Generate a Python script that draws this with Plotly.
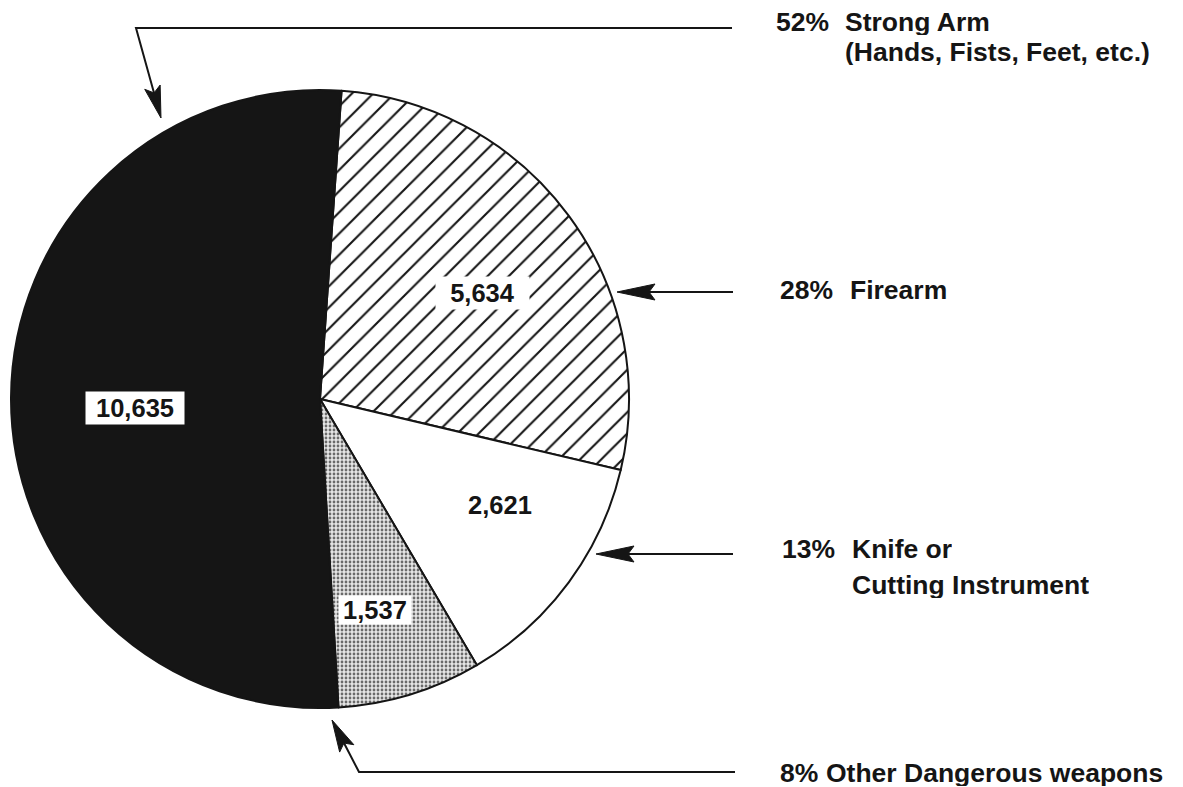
import math
import plotly.graph_objects as go

# ---------------- data ----------------
categories = ["Firearm", "Knife or Cutting Instrument", "Other Dangerous weapons", "Strong Arm"]
values = [5634, 2621, 1537, 10635]
label_lines = [
    ["Firearm"],
    ["Knife or", "Cutting Instrument"],
    ["Other Dangerous weapons"],
    ["Strong Arm", "(Hands, Fists, Feet, etc.)"],
]

total = sum(values)
percents = [round(100 * v / total) for v in values]

# ---------------- layout helpers ----------------
W, H = 1183, 787
FONT = "Liberation Sans, Arial, Helvetica, sans-serif"
BLACK = "#151515"
FS_VAL = 25.5
FS_OUT = 26.5


def px(x):
    return x / W


def py(y):
    return 1 - y / H


fig = go.Figure()

fig.add_trace(go.Pie(
    labels=categories,
    values=values,
    sort=False,
    direction="clockwise",
    rotation=4,
    textinfo="none",
    hoverinfo="label+value",
    showlegend=False,
    domain=dict(x=[px(11), px(629)], y=[py(708), py(90)]),
    marker=dict(
        colors=["white", "white", "#d8d8d8", BLACK],
        line=dict(color=BLACK, width=2),
        pattern=dict(
            shape=["/", "", ".", ""],
            fgcolor=[BLACK, BLACK, "#6a6a6a", BLACK],
            bgcolor=["white", "white", "#e6e6e6", BLACK],
            size=[15, 10, 4, 10],
            solidity=[0.14, 0.2, 0.38, 0.2],
            fillmode="replace",
        ),
    ),
))

annotations = []
shapes = []

# value labels inside slices (pixel centres, box sizes)
value_label_pos = {
    "Strong Arm": (135, 408, 98, 32, "white"),
    "Firearm": (483, 293, 93, 32, "white"),
    "Knife or Cutting Instrument": (500, 505, 80, 32, "rgba(0,0,0,0)"),
    "Other Dangerous weapons": (375, 610, 72, 28, "white"),
}
for cat, v in zip(categories, values):
    x, y, bw, bh, bg = value_label_pos[cat]
    annotations.append(dict(
        x=px(x), y=py(y), xref="paper", yref="paper",
        text=f"{v:,}", showarrow=False,
        xanchor="center", yanchor="middle",
        width=bw, height=bh, bgcolor=bg, borderpad=0,
        font=dict(family=FONT, size=FS_VAL, color=BLACK, weight="bold"),
    ))

# outside callout texts: (pct x, text x, [line centre ys])
callout_pos = {
    "Strong Arm": (774, 843, [22, 52]),
    "Firearm": (778, 848, [290]),
    "Knife or Cutting Instrument": (780, 850, [549, 585]),
    "Other Dangerous weapons": (778, 824, [773]),
}
for cat, pct, lines in zip(categories, percents, label_lines):
    xp, xt, ys = callout_pos[cat]
    annotations.append(dict(
        x=px(xp), y=py(ys[0]), xref="paper", yref="paper",
        text=f"{pct}%", showarrow=False, xanchor="left", yanchor="middle",
        height=26,
        font=dict(family=FONT, size=FS_OUT, color=BLACK, weight="bold"),
    ))
    for line, yy in zip(lines, ys):
        annotations.append(dict(
            x=px(xt), y=py(yy), xref="paper", yref="paper",
            text=line, showarrow=False, xanchor="left", yanchor="middle",
            height=26,
            font=dict(family=FONT, size=FS_OUT, color=BLACK, weight="bold"),
        ))


def connector(points, head_len, half_w=8, notch=6):
    """points: pixel polyline ending at the arrow tip."""
    tip = points[-1]
    prev = points[-2]
    dx, dy = tip[0] - prev[0], tip[1] - prev[1]
    d = math.hypot(dx, dy)
    ux, uy = dx / d, dy / d
    nx, ny = -uy, ux
    bx, by = tip[0] - head_len * ux, tip[1] - head_len * uy
    notch_pt = (tip[0] - (head_len - notch) * ux, tip[1] - (head_len - notch) * uy)
    pts = points[:-1] + [notch_pt]
    path = "M " + " L ".join(f"{px(a):.5f},{py(b):.5f}" for a, b in pts)
    shapes.append(dict(type="path", xref="paper", yref="paper", path=path,
                       line=dict(color=BLACK, width=2)))
    left = (bx + half_w * nx, by + half_w * ny)
    right = (bx - half_w * nx, by - half_w * ny)
    hp = [tip, left, notch_pt, right]
    hpath = "M " + " L ".join(f"{px(a):.5f},{py(b):.5f}" for a, b in hp) + " Z"
    shapes.append(dict(type="path", xref="paper", yref="paper", path=hpath,
                       line=dict(color=BLACK, width=1), fillcolor=BLACK))


connector([(732, 28), (136, 28), (161, 118)], 32)
connector([(733, 292), (617, 292)], 38)
connector([(733, 554), (596, 554)], 38)
connector([(735, 772), (359, 772), (332, 720)], 32)

fig.update_layout(
    width=W, height=H, autosize=False,
    margin=dict(l=0, r=0, t=0, b=0),
    paper_bgcolor="white", plot_bgcolor="white",
    annotations=annotations, shapes=shapes,
)

fig.write_html(
    "out.html",
    config={"displayModeBar": False},
    post_script="document.body.style.margin='0px';",
)
